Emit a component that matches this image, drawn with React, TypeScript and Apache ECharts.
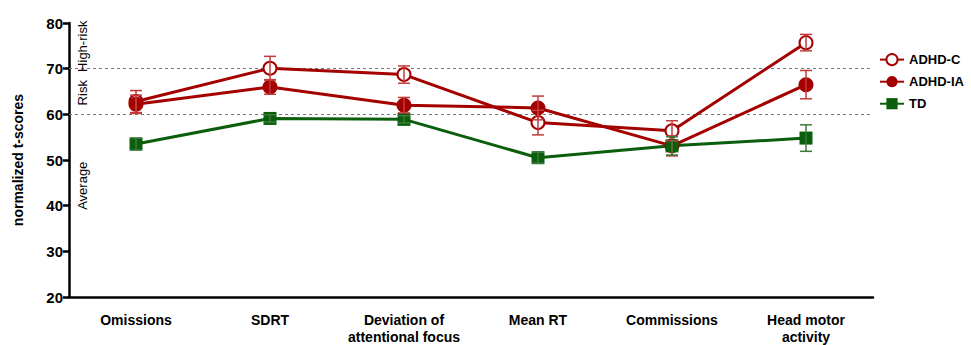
import React, { useEffect, useRef } from "react";
import * as echarts from "echarts";

const categories = [
  "Omissions",
  "SDRT",
  "Deviation of\nattentional focus",
  "Mean RT",
  "Commissions",
  "Head motor\nactivity",
];
const adhdC = [62.8, 70.1, 68.7, 58.2, 56.4, 75.7];
const adhdCErr = [2.4, 2.6, 1.9, 2.7, 2.2, 1.8];
const adhdIA = [62.2, 66.0, 62.0, 61.4, 53.1, 66.5];
const adhdIAErr = [2.0, 1.6, 1.7, 2.6, 2.2, 3.1];
const td = [53.5, 59.1, 58.9, 50.5, 53.1, 54.8];
const tdErr = [1.3, 0.8, 0.8, 1.2, 2.0, 2.9];
const thresholds = [60, 70];
const zoneLabels = [
  { text: "High-risk", value: 75 },
  { text: "Risk", value: 65 },
  { text: "Average", value: 45 },
];

const RED = "#a50000";
const RED_ERR = "#c23b3b";
const GREEN = "#0b5e0b";
const GREEN_ERR = "#3c7a3c";
const FONT = "Liberation Sans, Arial, sans-serif";

function errData(vals: number[], errs: number[]) {
  return vals.map((v, i) => [i, v - errs[i], v + errs[i]]);
}

function errSeries(name: string, vals: number[], errs: number[], color: string) {
  return {
    type: "custom",
    name: name + "-err",
    z: 5,
    data: errData(vals, errs),
    renderItem: (params: any, api: any) => {
      const x = api.value(0);
      const lo = api.coord([x, api.value(1)]);
      const hi = api.coord([x, api.value(2)]);
      const cap = 6;
      const style = { stroke: color, lineWidth: 1.5, fill: "none" };
      return {
        type: "group",
        children: [
          { type: "line", shape: { x1: lo[0], y1: lo[1], x2: hi[0], y2: hi[1] }, style },
          { type: "line", shape: { x1: lo[0] - cap, y1: lo[1], x2: lo[0] + cap, y2: lo[1] }, style },
          { type: "line", shape: { x1: hi[0] - cap, y1: hi[1], x2: hi[0] + cap, y2: hi[1] }, style },
        ],
      };
    },
    tooltip: { show: false },
  };
}

export default function App() {
  const ref = useRef<HTMLDivElement>(null);
  useEffect(() => {
    if (!ref.current) return;
    const chart = echarts.init(ref.current, null, { renderer: "svg" });
    const gridLeft = 69;
    const gridTop = 23;
    const gridBottom = 43;
    const plotH = 345 - gridTop - gridBottom;
    const yOf = (v: number) => gridTop + ((80 - v) / 60) * plotH;
    chart.setOption({
      animation: false,
      backgroundColor: "#fff",
      grid: { left: gridLeft, right: 98, top: gridTop, bottom: gridBottom },
      legend: {
        orient: "vertical",
        left: 879,
        top: 53,
        padding: 0,
        itemGap: 9,
        itemWidth: 24,
        itemHeight: 14,
        data: ["ADHD-C", "ADHD-IA", "TD"],
        textStyle: { fontFamily: FONT, fontWeight: "bold", fontSize: 13, color: "#000" },
      },
      xAxis: {
        type: "category",
        data: categories,
        boundaryGap: true,
        axisLine: { lineStyle: { color: "#000", width: 2.5 } },
        axisTick: { alignWithLabel: true, length: 6, lineStyle: { width: 2.5, color: "#000" } },
        axisLabel: {
          interval: 0,
          margin: 14,
          fontFamily: FONT,
          fontWeight: "bold",
          fontSize: 14,
          lineHeight: 17,
          color: "#000",
        },
      },
      yAxis: {
        type: "value",
        min: 20,
        max: 80,
        interval: 10,
        name: "normalized t-scores",
        nameLocation: "middle",
        nameGap: 44,
        nameTextStyle: { fontFamily: FONT, fontWeight: "bold", fontSize: 14, color: "#000" },
        splitLine: { show: false },
        axisLine: { show: true, lineStyle: { color: "#000", width: 2.5 } },
        axisTick: { show: true, length: 6, lineStyle: { width: 2.5, color: "#000" } },
        axisLabel: { fontFamily: FONT, fontWeight: "bold", fontSize: 15, color: "#000", margin: 6 },
      },
      graphic: zoneLabels.map((z) => ({
        type: "text",
        x: 82,
        y: yOf(z.value),
        rotation: Math.PI / 2,
        style: {
          text: z.text,
          fontFamily: FONT,
          fontSize: 13,
          fill: "#000",
          align: "center",
          verticalAlign: "middle",
        },
        z: 10,
      })),
      series: [
        {
          type: "line",
          name: "ADHD-C",
          data: adhdC,
          z: 4,
          symbol: "emptyCircle",
          symbolSize: 13,
          lineStyle: { color: RED, width: 3 },
          itemStyle: { color: RED, borderColor: RED, borderWidth: 2 },
          markLine: {
            silent: true,
            symbol: "none",
            label: { show: false },
            lineStyle: { color: "#777", type: [3, 3], width: 1.2 },
            data: thresholds.map((t) => ({ yAxis: t })),
            z: 1,
          },
        },
        {
          type: "line",
          name: "ADHD-IA",
          data: adhdIA,
          z: 4,
          symbol: "circle",
          symbolSize: 15,
          lineStyle: { color: RED, width: 3 },
          itemStyle: { color: RED },
        },
        {
          type: "line",
          name: "TD",
          data: td,
          z: 4,
          symbol: "rect",
          symbolSize: 13,
          lineStyle: { color: GREEN, width: 3 },
          itemStyle: { color: GREEN },
        },
        errSeries("ADHD-C", adhdC, adhdCErr, RED_ERR),
        errSeries("ADHD-IA", adhdIA, adhdIAErr, RED_ERR),
        errSeries("TD", td, tdErr, GREEN_ERR),
      ],
    });
    return () => chart.dispose();
  }, []);
  return (
    <div
      ref={ref}
      style={{ position: "fixed", left: 0, top: 0, width: 971, height: 345 }}
    />
  );
}
